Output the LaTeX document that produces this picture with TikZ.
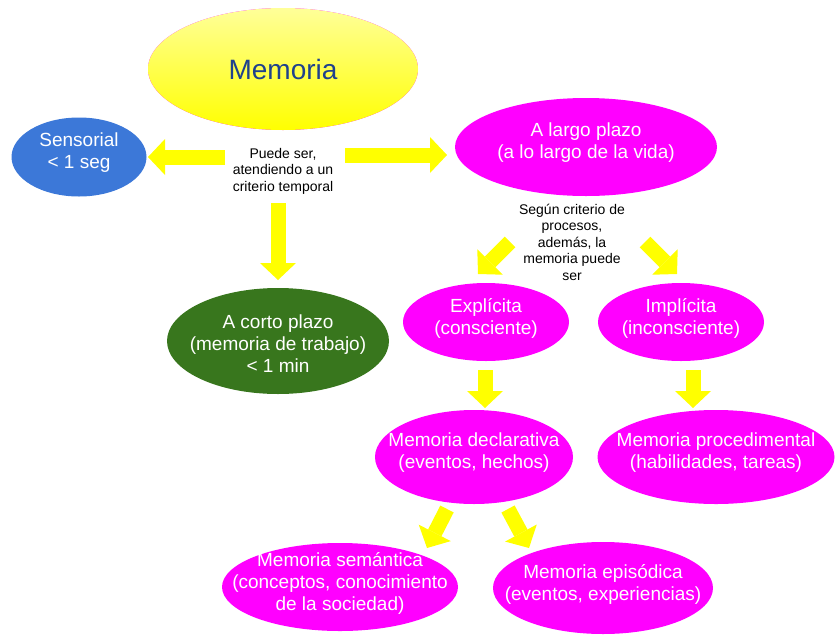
\documentclass[tikz,border=0pt]{standalone}
\usepackage{fontspec}
\setmainfont{Liberation Sans}
\usetikzlibrary{shapes.geometric,arrows.meta}
\definecolor{memblue}{RGB}{31,66,140}
\definecolor{sensblue}{RGB}{60,120,216}
\definecolor{shortgreen}{RGB}{56,118,29}
\definecolor{longmag}{RGB}{255,0,255}
\definecolor{arrowyellow}{RGB}{255,255,0}
\begin{document}
\begin{tikzpicture}[x=1pt,y=-1pt,
  blob/.style={ellipse, draw=none, inner sep=0pt, fill=longmag},
  wtxt/.style={text=white, font=\fontsize{19}{22}\selectfont, align=center, yshift=4pt},
  note/.style={text=black, font=\fontsize{14}{16.5}\selectfont, align=center, inner sep=0pt},
  yarrow/.style={draw=arrowyellow, line width=15pt,
    -{Triangle[width=36pt,length=17pt,line width=0pt]}}
]
\useasboundingbox (0,0) rectangle (835,635);

% main concept
\node[blob, top color=yellow!40!white, middle color=yellow!85!white, bottom color=arrowyellow,
      minimum width=270pt, minimum height=122pt,
      text=memblue, font=\fontsize{28}{32}\selectfont] (mem) at (283,69) {Memoria};

% first level: time criterion
\node[blob, fill=sensblue, minimum width=135pt, minimum height=79pt,
      label={[wtxt]center:{Sensorial\\< 1 seg}}] (sens) at (79,157) {};
\node[blob, minimum width=262pt, minimum height=98pt,
      label={[wtxt]center:{A largo plazo\\(a lo largo de la vida)}}] (largo) at (586,147) {};
\node[blob, fill=shortgreen, minimum width=222pt, minimum height=106pt,
      label={[wtxt, yshift=-7pt]center:{A corto plazo\\(memoria de trabajo)\\< 1 min}}] (corto) at (278,341) {};

\node[note] (t1) at (283,171) {Puede ser,\\atendiendo a un\\criterio temporal};

% second level: process criterion
\node[note] (t2) at (572,242) {Según criterio de\\procesos,\\además, la\\memoria puede\\ser};

\node[blob, minimum width=166pt, minimum height=78pt,
      label={[wtxt]center:{Explícita\\(consciente)}}] (expl) at (486,322) {};
\node[blob, minimum width=166pt, minimum height=78pt,
      label={[wtxt]center:{Implícita\\(inconsciente)}}] (impl) at (681,322) {};

\node[blob, minimum width=198pt, minimum height=94pt,
      label={[wtxt]center:{Memoria declarativa\\(eventos, hechos)}}] (decl) at (474,457) {};
\node[blob, minimum width=237pt, minimum height=94pt,
      label={[wtxt]center:{Memoria procedimental\\(habilidades, tareas)}}] (proc) at (716,457) {};

\node[blob, minimum width=236pt, minimum height=88pt,
      label={[wtxt]center:{Memoria semántica\\(conceptos, conocimiento\\de la sociedad)}}] (sem) at (340,587) {};
\node[blob, minimum width=220pt, minimum height=92pt,
      label={[wtxt]center:{Memoria episódica\\(eventos, experiencias)}}] (epi) at (603,588) {};

% arrow ends
\coordinate (aLs) at (225,157); \coordinate (aLe) at (148,157);
\coordinate (aRs) at (345,155); \coordinate (aRe) at (447,155);
\coordinate (aDs) at (278,203); \coordinate (aDe) at (278,280);
\coordinate (bLs) at (510,242); \coordinate (bLe) at (478,274);
\coordinate (bRs) at (645,242); \coordinate (bRe) at (677,274);
\coordinate (cLs) at (485,370); \coordinate (cLe) at (485,408);
\coordinate (cRs) at (693,370); \coordinate (cRe) at (693,408);
\coordinate (dLs) at (447,509); \coordinate (dLe) at (427,548);
\coordinate (dRs) at (508,509); \coordinate (dRe) at (529,548);

\draw[yarrow] (aLs) -- (aLe);
\draw[yarrow] (aRs) -- (aRe);
\draw[yarrow] (aDs) -- (aDe);
\draw[yarrow] (bLs) -- (bLe);
\draw[yarrow] (bRs) -- (bRe);
\draw[yarrow] (cLs) -- (cLe);
\draw[yarrow] (cRs) -- (cRe);
\draw[yarrow] (dLs) -- (dLe);
\draw[yarrow] (dRs) -- (dRe);
\end{tikzpicture}
\end{document}
